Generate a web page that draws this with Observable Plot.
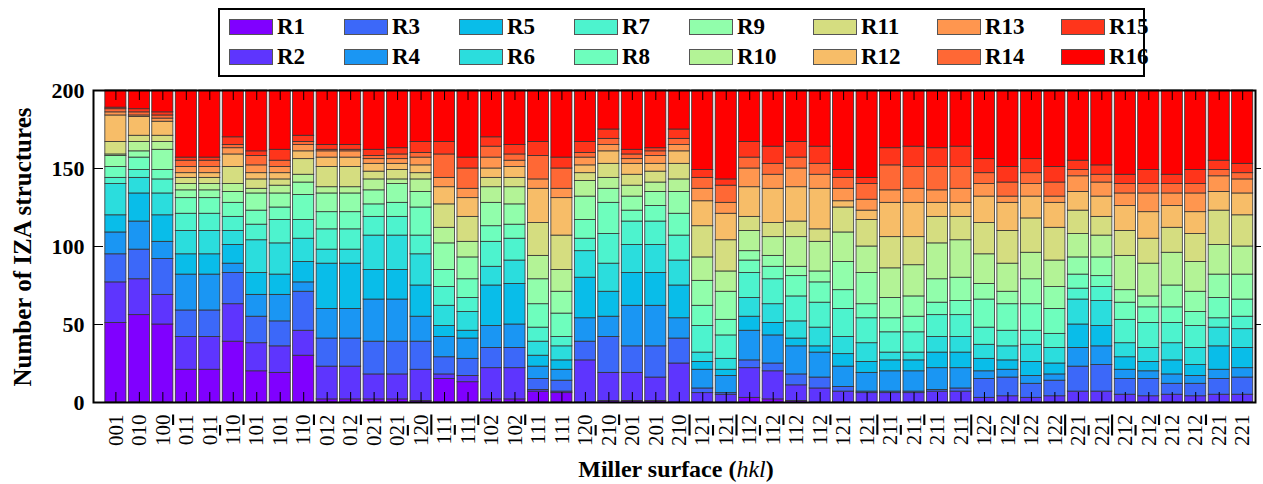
<!DOCTYPE html>
<html><head><meta charset="utf-8">
<script src="https://cdn.jsdelivr.net/npm/d3@7"></script>
<script src="https://cdn.jsdelivr.net/npm/@observablehq/plot@0.6"></script>
<style>
body{margin:0;background:#fff;}
#wrap{position:relative;width:1263px;height:484px;font-family:"Liberation Serif","DejaVu Serif",serif;}
#legend{position:absolute;left:218px;top:8px;width:923px;height:65px;border:2px solid #000;box-sizing:content-box;}
.item{position:absolute;display:flex;align-items:center;font-weight:bold;font-size:23px;}
.sw{width:42px;height:14px;border:1px solid #555;margin-right:4px;}
#ylab{position:absolute;left:23px;top:247px;transform:translate(-50%,-50%) rotate(-90deg);white-space:nowrap;font-weight:bold;font-size:25px;}
#xlab{position:absolute;left:676px;top:469px;transform:translate(-50%,-50%);white-space:nowrap;font-weight:bold;font-size:24px;}
</style></head><body>
<div id="wrap"></div>
<script>
// Miller surfaces (x categories); \u0305 = overbar on preceding digit
const surfaces = ["001","010","100","011\u0305","011","11\u03050","101\u0305","101","110","012\u0305",
  "012","021\u0305","021","12\u03050","11\u03051\u0305","11\u03051","102\u0305","102","111\u0305","111",
  "120","21\u03050","201\u0305","201","210","12\u03051\u0305","12\u03051","11\u03052\u0305","11\u03052","112\u0305",
  "112","121\u0305","121","21\u03051\u0305","21\u03051","211\u0305","211","12\u03052\u0305","12\u03052","122\u0305",
  "122","22\u03051\u0305","22\u03051","21\u03052\u0305","21\u03052","212\u0305","212","221\u0305","221"];
const series = ["R1","R2","R3","R4","R5","R6","R7","R8","R9","R10","R11","R12","R13","R14","R15","R16"];
const colors = ["#8000ff","#5e35fe","#3c68f9","#1a96f3","#09bde9","#2bdddd","#4df3ce","#6efebd",
  "#91feab","#b3f396","#d5dd80","#f7bd68","#ff964f","#ff6835","#ff351b","#ff0000"];
const yTicks = [0, 50, 100, 150, 200];

const R1  = [51,56,50,21,21,39,20,19,30,2, 2,2,2,1,15,13,2,2,7,6, 0,1,1,1,0,0,0,3,2,1, 0,0,0,0,0,0,0,0,0,0, 0,0,0,0,0,0,0,0,0];
const R2  = [26,23,19,21,21,24,18,17,16,21, 21,16,16,20,3,4,20,20,1,1, 27,18,18,15,25,6,5,19,18,10, 9,7,6,6,6,7,7,3,4,3, 4,7,7,5,4,5,4,5,5];
const R3  = [18,19,23,17,17,20,17,16,25,18, 18,21,21,18,11,11,13,13,7,7, 12,23,17,20,16,3,1,5,5,7, 7,3,1,1,1,1,2,12,12,9, 10,16,17,10,11,7,8,10,11];
const R4  = [14,18,11,23,23,6,14,17,6,19, 19,27,27,16,13,13,14,15,8,7, 15,13,26,26,13,12,11,19,18,18, 16,13,12,13,13,14,13,5,5,5, 4,12,12,6,5,6,5,6,6];
const R5  = [11,18,17,13,13,12,14,13,13,29, 29,19,19,20,7,5,26,26,7,6, 26,16,21,21,21,5,4,9,8,5, 4,8,7,7,7,10,10,8,6,9, 7,15,13,8,6,9,7,15,13];
const R6  = [20,10,14,15,15,9,21,20,15,9, 9,22,22,20,13,12,12,15,9,9, 17,18,18,18,16,6,7,12,12,11, 12,11,12,5,5,10,10,9,9,11, 10,16,16,9,9,11,11,12,12];
const R7  = [4,5,9,11,11,9,10,15,12,13, 13,12,12,12,12,9,16,14,9,6, 8,19,15,15,16,17,15,16,16,16, 16,18,16,13,13,14,14,11,10,9, 9,7,9,15,16,13,14,6,8];
const R8  = [7,8,6,10,10,9,9,8,16,11, 11,8,9,18,11,12,10,9,15,15, 12,20,7,10,14,13,10,8,8,13, 13,12,9,9,10,8,9,18,17,17, 16,9,7,11,10,10,9,13,11];
const R9  = [7,4,13,5,5,7,11,9,8,12, 12,9,12,10,17,14,15,13,16,14, 15,9,9,9,14,16,18,6,7,6, 7,18,20,13,13,15,15,10,8,16, 14,11,12,8,7,14,13,15,16];
const R10 = [1,6,5,4,4,5,3,5,5,4, 4,7,3,8,10,10,10,11,15,14, 10,7,7,6,8,15,13,13,12,19, 19,19,17,19,20,23,24,19,18,17, 17,15,14,22,21,21,19,19,18];
const R11 = [8,4,4,4,4,11,6,4,10,13, 13,5,6,4,15,16,6,6,21,22, 5,9,7,7,10,20,20,9,9,10, 8,16,17,20,18,17,15,20,21,22, 21,15,12,16,16,16,18,22,20];
const R12 = [17,12,9,3,3,8,4,4,5,6, 6,5,4,5,11,12,6,7,22,24, 5,8,7,5,8,16,17,19,22,22, 26,4,6,22,22,9,9,17,18,14, 16,12,13,16,17,14,14,12,14];
const R13 = [2,1,2,4,4,4,5,4,4,4, 4,3,3,5,6,6,7,4,6,6, 5,4,3,5,4,8,7,12,9,12, 9,8,7,8,9,8,9,8,4,8, 4,10,9,8,12,8,12,10,9];
const R14 = [2,2,2,4,4,2,6,4,2,1, 1,2,3,3,15,13,7,4,15,13, 3,4,3,3,4,7,11,7,7,7, 7,7,10,16,14,15,14,7,9,7, 9,4,5,6,6,6,6,4,4];
const R15 = [1,2,2,2,2,5,3,7,4,3, 3,4,4,7,8,7,6,6,9,7, 7,6,3,2,6,5,4,10,11,10, 11,5,4,11,13,12,13,9,10,9, 10,6,6,6,9,6,9,6,6];
const R16 = [11,12,14,43,43,30,39,38,29,35, 35,38,37,33,33,43,30,35,33,43, 33,25,38,37,25,51,57,33,36,33, 36,51,56,37,36,37,36,44,49,44, 49,45,48,54,51,54,51,45,47];

const seriesValues = [R1,R2,R3,R4,R5,R6,R7,R8,R9,R10,R11,R12,R13,R14,R15,R16];
const data = [];
surfaces.forEach((s, i) => series.forEach((k, j) => data.push({i, series: k, v: seriesValues[j][i]})));

const W = 1263, H = 484, mt = 90, mb = 82, ml = 93, mr = 8;
const plotW = W - ml - mr, plotH = H - mt - mb;
const idx = d3.range(surfaces.length);
const FONT = "'Liberation Serif','DejaVu Serif',serif";

const chart = Plot.plot({
  width: W, height: H, marginTop: mt, marginBottom: mb, marginLeft: ml, marginRight: mr,
  style: {fontFamily: FONT, background: "transparent", overflow: "visible", color: "black"},
  x: {type: "band", domain: idx, paddingInner: 0.1, paddingOuter: 0.3, align: 0.84, round: false},
  y: {domain: [0, 200]},
  color: {domain: series, range: colors},
  marks: [
    Plot.barY(data, {x: "i", y: "v", fill: "series", stroke: "#333", strokeWidth: 0.8}),
    Plot.gridX(idx, {stroke: "black", strokeOpacity: 1, strokeWidth: 1, insetBottom: plotH - 10}),
    Plot.gridX(idx, {stroke: "black", strokeOpacity: 1, strokeWidth: 1, insetTop: plotH - 10}),
    Plot.gridY([50, 100, 150], {stroke: "black", strokeOpacity: 1, strokeWidth: 1, insetRight: plotW - 10}),
    Plot.axisY(yTicks, {tickSize: 0, tickPadding: 9, label: null, fontSize: 22, fontWeight: "bold"}),
    Plot.axisY([50, 100, 150], {anchor: "right", tickSize: 5, tickFormat: () => "", label: null}),
    Plot.axisX(idx, {tickRotate: -90, tickSize: 0, tickPadding: 15, tickFormat: i => surfaces[i], label: null, fontSize: 21, dy: -3}),
    Plot.frame({stroke: "black", strokeWidth: 2})
  ]
});
const wrap = document.getElementById("wrap");
wrap.appendChild(chart);

// turn combining overbars into overlined tspans
d3.select(chart).selectAll('g[aria-label="x-axis tick label"] text').each(function() {
  const t = this.textContent;
  const chars = [];
  for (const c of t) {
    if (c === "\u0305") chars[chars.length - 1].bar = true;
    else chars.push({c, bar: false});
  }
  const sel = d3.select(this);
  sel.text(null);
  chars.forEach(ch => {
    const ts = sel.append("tspan").text(ch.c);
    if (ch.bar) ts.style("text-decoration", "overline");
  });
});

// legend (two rows, eight columns)
const leg = document.createElement("div");
leg.id = "legend";
const colX = [9, 124, 239, 354, 469, 593, 717, 841];
const rowY = [18, 48];
series.forEach((k, j) => {
  const it = document.createElement("div");
  it.className = "item";
  it.style.left = colX[Math.floor(j / 2)] + "px";
  it.style.top = (rowY[j % 2] - 14) + "px";
  it.innerHTML = `<div class="sw" style="background:${colors[j]}"></div><span>${k}</span>`;
  leg.appendChild(it);
});
wrap.appendChild(leg);

const yl = document.createElement("div");
yl.id = "ylab"; yl.textContent = "Number of IZA structures";
wrap.appendChild(yl);
const xl = document.createElement("div");
xl.id = "xlab"; xl.innerHTML = 'Miller surface (<span style="font-style:italic;font-weight:normal">hkl</span>)';
wrap.appendChild(xl);
</script>
</body></html>
